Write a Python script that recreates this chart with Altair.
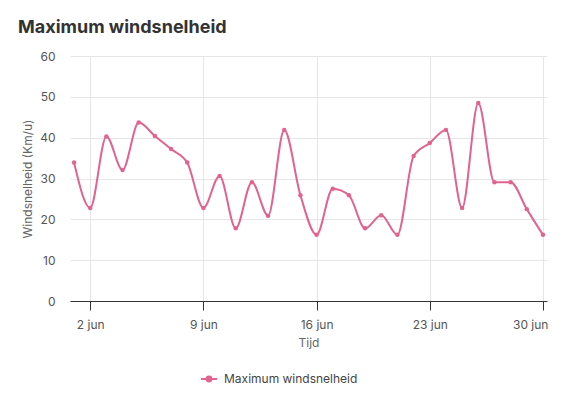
import altair as alt
import pandas as pd

dates = [f"2024-06-{d:02d}" for d in range(1, 31)]
values = [33.9, 22.8, 40.3, 32.1, 43.7, 40.4, 37.2, 33.9, 22.8, 30.6,
          17.8, 29.1, 20.9, 41.9, 25.9, 16.2, 27.5, 25.9, 17.8, 21.0,
          16.2, 35.5, 38.7, 41.9, 22.8, 48.5, 29.1, 29.1, 22.5, 16.2]
series_name = "Maximum windsnelheid"
tick_dates = [2, 9, 16, 23, 30]
y_ticks = [0, 10, 20, 30, 40, 50, 60]

df = pd.DataFrame({"datum": dates, "waarde": values, "reeks": series_name})

pink = "#e0648f"
FONT = "Inter"

x = alt.X(
    "datum:T",
    scale=alt.Scale(
        type="utc",
        domain=[alt.DateTime(year=2024, month=5, date=31, hours=18, utc=True),
                alt.DateTime(year=2024, month=6, date=30, hours=6, utc=True)],
    ),
    axis=alt.Axis(
        title="Tijd",
        values=[alt.DateTime(year=2024, month=6, date=d, utc=True) for d in tick_dates],
        labelExpr="utcFormat(datum.value, '%-d') + ' jun'",
        grid=True, gridColor="#e6e6e6",
        domain=True, domainColor="#333333",
        ticks=True, tickColor="#333333", tickSize=9,
        labelPadding=9, labelColor="#555555", labelFontSize=12, labelFont=FONT,
        labelFlush=6, labelFlushOffset=5,
        titleColor="#666666", titleFontSize=12, titleFont=FONT, titleFontWeight="normal",
        titlePadding=7,
    ),
)
y = alt.Y(
    "waarde:Q",
    scale=alt.Scale(domain=[0, 60]),
    axis=alt.Axis(
        title="Windsnelheid (Km/u)",
        values=y_ticks,
        grid=True, gridColor="#e6e6e6",
        domain=False, ticks=False,
        labelPadding=15, labelColor="#555555", labelFontSize=12, labelFont=FONT,
        titleColor="#666666", titleFontSize=12, titleFont=FONT, titleFontWeight="normal",
        titlePadding=5,
    ),
)
color = alt.Color(
    "reeks:N",
    scale=alt.Scale(range=[pink]),
    legend=alt.Legend(
        title=None, orient="none", legendX=130, legendY=314,
        symbolType="M-1,0L1,0M-0.3,0A0.3,0.3 0 1,1 0.3,0A0.3,0.3 0 1,1 -0.3,0Z",
        symbolSize=256, symbolStrokeWidth=2, symbolFillColor=pink, symbolStrokeColor=pink,
        labelFont=FONT, labelFontSize=12, labelColor="#444444", labelOffset=6,
    ),
)

chart = (
    alt.Chart(df)
    .mark_line(interpolate="monotone", strokeWidth=2, point=alt.OverlayMarkDef(filled=True, size=20, color=pink))
    .encode(x=x, y=y, color=color)
    .properties(
        width=477, height=245,
        title=alt.TitleParams(
            "Maximum windsnelheid", anchor="start", frame="group", dx=-52, dy=-9,
            font=FONT, fontSize=18, fontWeight="bold", color="#333333",
        ),
        autosize=alt.AutoSizeParams(type="none"),
        padding={"left": 62, "top": 48, "right": 8, "bottom": 90},
    )
    .configure_view(stroke=None)
)

chart.save("out.html", embed_options={"renderer": "svg", "actions": False})
